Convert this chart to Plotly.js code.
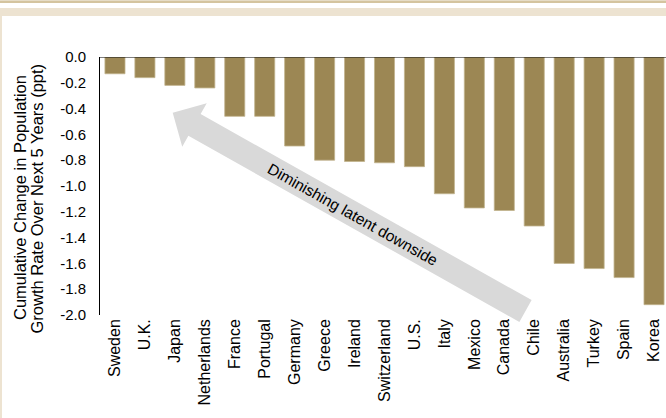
<!DOCTYPE html>
<html>
<head>
<meta charset="utf-8">
<script src="https://cdn.plot.ly/plotly-3.0.1.min.js"></script>
<style>
  html, body { margin: 0; padding: 0; background: #ffffff; overflow: hidden; }
  #frame { position: relative; width: 666px; height: 418px; }
  .band { position: absolute; }
  #chart { position: absolute; left: 0; top: 0; width: 666px; height: 418px; }
</style>
</head>
<body>
<div id="frame">
  <div class="band" style="left:0;top:0;width:666px;height:1px;background:#e6dcc6;"></div>
  <div class="band" style="left:0;top:1px;width:666px;height:2px;background:#d4c49f;"></div>
  <div class="band" style="left:0;top:8px;width:666px;height:8px;background:#ede3d1;"></div>
  <div class="band" style="left:0;top:16px;width:2px;height:402px;background:#ede3d1;"></div>
  <div id="chart"></div>
</div>
<script>
// Cumulative change in population growth rate over the next 5 years (ppt)
const countries = ["Sweden", "U.K.", "Japan", "Netherlands", "France", "Portugal", "Germany",
  "Greece", "Ireland", "Switzerland", "U.S.", "Italy", "Mexico", "Canada", "Chile",
  "Australia", "Turkey", "Spain", "Korea"];
const change = [-0.13, -0.16, -0.22, -0.24, -0.46, -0.46, -0.69,
  -0.80, -0.81, -0.82, -0.85, -1.06, -1.17, -1.19, -1.31,
  -1.60, -1.64, -1.71, -1.92];

const yTickVals = [0, -0.2, -0.4, -0.6, -0.8, -1.0, -1.2, -1.4, -1.6, -1.8, -2.0];
const yTickText = ["0.0", "-0.2", "-0.4", "-0.6", "-0.8", "-1.0", "-1.2", "-1.4", "-1.6", "-1.8", "-2.0"];

const yTitleLines = ["Cumulative Change in Population", "Growth Rate Over Next 5 Years (ppt)"];
const arrowLabel = "Diminishing latent downside";

// figure geometry
const W = 666, H = 418;
const M = { l: 100, r: 0, t: 57, b: 103 };
const PW = W - M.l - M.r, PH = H - M.t - M.b;
const px2x = px => (px - M.l) / PW;
const px2y = py => (H - M.b - py) / PH;

const FONT = "Arial, 'Liberation Sans', sans-serif";

// big grey arrow pointing up-left, built in pixel space then mapped to paper space
function arrowPath(tail, tip, shaftW, headW, headLen) {
  const dx = tip[0] - tail[0], dy = tip[1] - tail[1];
  const len = Math.hypot(dx, dy);
  const ux = dx / len, uy = dy / len;
  const nx = -uy, ny = ux;
  const bx = tip[0] - ux * headLen, by = tip[1] - uy * headLen;
  const pts = [
    [tail[0] + nx * shaftW / 2, tail[1] + ny * shaftW / 2],
    [bx + nx * shaftW / 2, by + ny * shaftW / 2],
    [bx + nx * headW / 2, by + ny * headW / 2],
    tip,
    [bx - nx * headW / 2, by - ny * headW / 2],
    [bx - nx * shaftW / 2, by - ny * shaftW / 2],
    [tail[0] - nx * shaftW / 2, tail[1] - ny * shaftW / 2]
  ];
  return "M " + pts.map(p => px2x(p[0]).toFixed(5) + "," + px2y(p[1]).toFixed(5)).join(" L ") + " Z";
}
const arrowTail = [525.5, 311], arrowTip = [172.7, 112.7];
const arrowAngle = Math.atan2(arrowTail[1] - arrowTip[1], arrowTail[0] - arrowTip[0]) * 180 / Math.PI;

const trace = {
  type: "bar",
  x: countries,
  y: change,
  marker: { color: "#9c8754", line: { color: "#c2b48e", width: 0.8 } },
  hoverinfo: "x+y"
};

const layout = {
  width: W, height: H,
  margin: M,
  paper_bgcolor: "rgba(0,0,0,0)",
  plot_bgcolor: "rgba(0,0,0,0)",
  showlegend: false,
  bargap: 0.33,
  font: { family: FONT, color: "#000000" },
  xaxis: {
    type: "category",
    range: [-0.5, 18.4],
    tickangle: -90,
    ticks: "",
    showline: false,
    showgrid: false,
    zeroline: false,
    tickfont: { family: FONT, size: 16, color: "#000000" },
    fixedrange: true
  },
  yaxis: {
    range: [-2.0, 0],
    tickvals: yTickVals,
    ticktext: yTickText,
    ticks: "",
    ticklabelstandoff: 10,
    showline: true,
    linecolor: "#000000",
    linewidth: 1,
    showgrid: false,
    zeroline: false,
    tickfont: { family: FONT, size: 15, color: "#000000" },
    fixedrange: true
  },
  shapes: [
    { type: "path", xref: "paper", yref: "paper", path: arrowPath(arrowTail, arrowTip, 25, 50, 25),
      fillcolor: "#d9d9d9", line: { width: 0 }, layer: "below" },
    { type: "line", xref: "paper", yref: "y", x0: 0, x1: 1, y0: 0, y1: 0,
      line: { color: "#000000", width: 1 } }
  ],
  annotations: [
    { xref: "paper", yref: "paper", x: px2x(353), y: px2y(214), text: arrowLabel,
      showarrow: false, textangle: arrowAngle, font: { family: FONT, size: 15.5, color: "#000000" },
      xanchor: "center", yanchor: "middle" },
    { xref: "paper", yref: "paper", x: px2x(20), y: px2y(198), text: yTitleLines[0],
      showarrow: false, textangle: -90, font: { family: FONT, size: 16.5, color: "#000000" },
      xanchor: "center", yanchor: "middle" },
    { xref: "paper", yref: "paper", x: px2x(36.5), y: px2y(199), text: yTitleLines[1],
      showarrow: false, textangle: -90, font: { family: FONT, size: 16.5, color: "#000000" },
      xanchor: "center", yanchor: "middle" }
  ]
};

Plotly.newPlot("chart", [trace], layout, { displayModeBar: false, staticPlot: true });
</script>
</body>
</html>
